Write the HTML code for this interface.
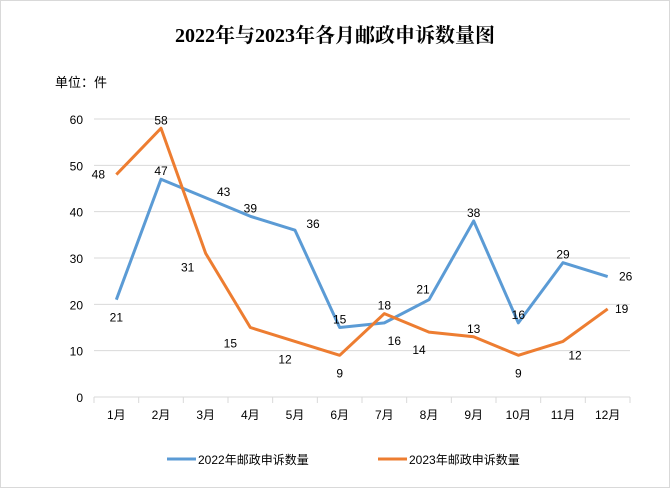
<!DOCTYPE html>
<html><head><meta charset="utf-8"><style>
body{margin:0;background:#fff}
svg{display:block;font-family:"Liberation Sans","Noto Sans CJK SC",sans-serif}
</style></head><body>
<svg id="c" width="670" height="488" viewBox="0 0 670 488">
<rect x="0.5" y="0.5" width="669" height="487" fill="#fff" stroke="#d9d9d9"/>
<text x="335" y="42" text-anchor="middle" font-family="'Liberation Serif','Noto Serif CJK SC',serif" font-weight="bold" font-size="20">2022年与2023年各月邮政申诉数量图</text>
<text x="55" y="87" font-size="13">单位：件</text>
<g id="grid"></g><g id="axes"></g><g id="series"></g><g id="labels"></g>
<g>
<line x1="167" y1="459" x2="196" y2="459" stroke="#5b9bd5" stroke-width="3"/>
<text x="198" y="464" font-size="12">2022年邮政申诉数量</text>
<line x1="378" y1="459" x2="407" y2="459" stroke="#ed7d31" stroke-width="3"/>
<text x="409" y="464" font-size="12">2023年邮政申诉数量</text>
</g>
</svg>
<script>
const categories=["1月","2月","3月","4月","5月","6月","7月","8月","9月","10月","11月","12月"];
const series2022=[21,47,43,39,36,15,16,21,38,16,29,26];
const series2023=[48,58,31,15,12,9,18,14,13,9,12,19];
const yTicks=[0,10,20,30,40,50,60];
const off2022=[[0,18],[0,-8],[18,-6],[0,-8],[18,-6],[0,-8],[10,18],[-6,-10],[0,-8],[0,-8],[0,-8],[18,0]];
const off2023=[[-18,0],[0,-8],[-18,14],[-20,16],[-10,18],[0,18],[0,-8],[-10,18],[0,-8],[0,18],[12,14],[14,0]];
const L=94,R=630,T=119,B=397,NS="http://www.w3.org/2000/svg";
const bw=(R-L)/categories.length;
const x=i=>L+bw*(i+0.5), y=v=>B-(v/60)*(B-T);
function mk(p,t,a){const e=document.createElementNS(NS,t);for(const k in a)e.setAttribute(k,a[k]);document.getElementById(p).appendChild(e);return e;}
yTicks.forEach(v=>{
 const g=mk('grid','line',{x1:L,x2:R,y1:y(v),y2:y(v),stroke:'#d9d9d9','stroke-width':1});
 
 
 const t=mk('axes','text',{x:L-11,y:y(v)+5,'text-anchor':'end','font-size':12});
 t.textContent=v;
 
 
});
for(let i=0;i<=categories.length;i++){
 const tk=mk('axes','line',{x1:L+bw*i,x2:L+bw*i,y1:B,y2:B+6,stroke:'#d9d9d9'});
 
 
}
categories.forEach((c,i)=>{
 const t=mk('axes','text',{x:x(i),y:B+22,'text-anchor':'middle','font-size':12});
 t.textContent=c;
 
 
});
function draw(data,color,off,name){
 const pl=mk('series','polyline',{points:data.map((v,i)=>x(i)+','+y(v)).join(' '),fill:'none',stroke:color,'stroke-width':3,'stroke-linejoin':'round'});
 
 
 data.forEach((v,i)=>{
  const t=mk('labels','text',{x:x(i)+off[i][0],y:y(v)+off[i][1]+4,'text-anchor':'middle','font-size':12});
  t.textContent=v;
  
  
 });
}
draw(series2022,'#5b9bd5',off2022,'2022');
draw(series2023,'#ed7d31',off2023,'2023');
</script>
</body></html>
